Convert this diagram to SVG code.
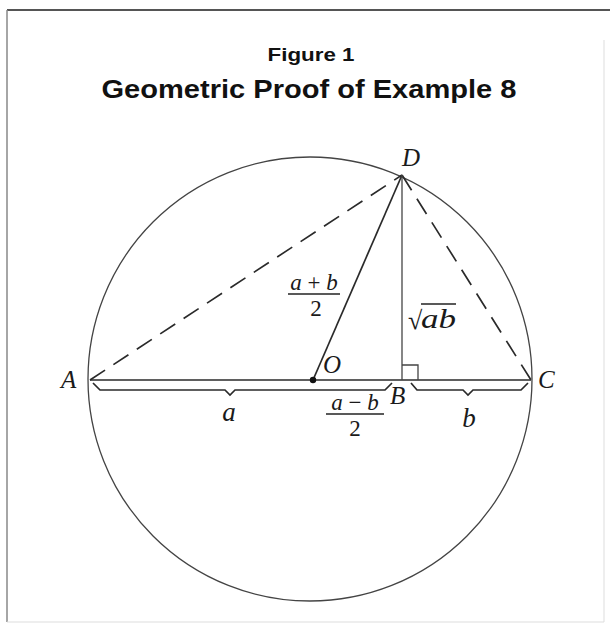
<svg xmlns="http://www.w3.org/2000/svg" width="610" height="627" viewBox="0 0 610 627">
<style>
.ttl{font-family:"Liberation Sans",Arial,sans-serif;font-weight:bold;fill:#111}
.lbl{font-family:"Liberation Serif","Times New Roman",serif;font-style:italic;fill:#1a1a1a}
.up{font-style:normal}
.ln{stroke:#2a2a2a;stroke-width:1.7;fill:none}
.dash{stroke:#2a2a2a;stroke-width:1.7;fill:none;stroke-dasharray:18 10}
.thin{stroke:#444;stroke-width:1.3;fill:none}
</style>
<rect width="610" height="627" fill="#fff"/>
<g id="frame">
<line x1="7" y1="10" x2="610" y2="10" stroke="#555" stroke-width="2"/>
<line x1="7" y1="10" x2="7" y2="622" stroke="#888" stroke-width="1.5"/>
<line x1="7" y1="622" x2="604" y2="622" stroke="#ddd" stroke-width="1"/>
<line x1="604" y1="40" x2="604" y2="622" stroke="#ddd" stroke-width="1"/>
</g>
<g id="title">
<text class="ttl" x="311" y="61" font-size="19" text-anchor="middle" textLength="87" lengthAdjust="spacingAndGlyphs">Figure 1</text>
<text class="ttl" x="309" y="98" font-size="25" text-anchor="middle" textLength="415" lengthAdjust="spacingAndGlyphs">Geometric Proof of Example 8</text>
</g>
<g id="circle"><circle cx="310" cy="379" r="222" class="thin"/></g>
<g id="connectors">
<line x1="90" y1="380" x2="531" y2="380" class="ln"/>
<line x1="90" y1="380" x2="402" y2="175" class="dash"/>
<line x1="402" y1="175" x2="531" y2="380" class="dash"/>
<line x1="313" y1="380" x2="402" y2="175" class="ln"/>
<line x1="402" y1="175" x2="402" y2="380" class="thin"/>
<path d="M402,365 H418 V380" class="thin"/>
<path d="M93,383 L100,390 L225,390 L230,395 L235,390 L385,390 L392,383" class="ln"/>
<path d="M411,383 L417,390 L463,390 L468,395 L473,390 L521,390 L528,383" class="ln"/>
</g>
<g id="pointO"><circle cx="313" cy="380" r="3.2" fill="#111"/></g>
<g id="labels">
<text class="lbl" x="61" y="388" font-size="25">A</text>
<text class="lbl" x="538" y="388" font-size="25">C</text>
<text class="lbl" x="402" y="166" font-size="25">D</text>
<text class="lbl" x="323" y="373" font-size="25">O</text>
<text class="lbl" x="390" y="404" font-size="25">B</text>
<text class="lbl" x="229" y="421" font-size="27" text-anchor="middle">a</text>
<text class="lbl" x="469" y="427" font-size="27" text-anchor="middle">b</text>
<text class="lbl" x="314" y="290" font-size="23" text-anchor="middle">a <tspan class="up">+</tspan> b</text>
<line x1="288" y1="294" x2="340" y2="294" stroke="#222" stroke-width="1.4"/>
<text class="lbl up" x="316" y="316" font-size="23" text-anchor="middle">2</text>
<text class="lbl" x="355" y="410" font-size="23" text-anchor="middle">a <tspan class="up">−</tspan> b</text>
<line x1="326" y1="414" x2="384" y2="414" stroke="#222" stroke-width="1.4"/>
<text class="lbl up" x="355" y="436" font-size="23" text-anchor="middle">2</text>
<text class="lbl up" x="408" y="329" font-size="26">√</text>
<line x1="421" y1="304" x2="456" y2="304" stroke="#222" stroke-width="1.4"/>
<text class="lbl" x="421" y="328" font-size="27" textLength="35" lengthAdjust="spacingAndGlyphs">ab</text>
</g>
</svg>
